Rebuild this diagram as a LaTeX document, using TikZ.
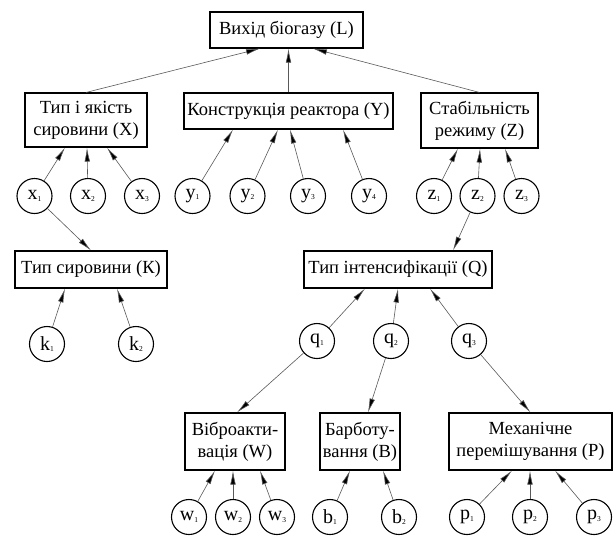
\documentclass[tikz,border=0pt]{standalone}
\usepackage{fontspec}
\setmainfont{Liberation Serif}
\usepackage{xcolor}
\usepackage{tikz}
\usetikzlibrary{arrows.meta}

\newcommand{\fac}[2]{#1\raisebox{-1.5pt}{\fontsize{7.5}{7.5}\selectfont #2}}

\begin{document}
\begin{tikzpicture}[x=1pt,y=-1pt,font=\fontsize{18.5}{22}\selectfont,
      box style/.style={rectangle,draw=black,line width=1.1pt,align=center,
        inner sep=2pt},
      var style/.style={circle,draw=black,line width=1.1pt,minimum size=35pt,
        inner sep=0pt,font=\fontsize{20}{20}\selectfont},
      link style/.style={draw=black!65,line width=0.6pt,
        -{Latex[length=14pt,width=5.5pt,fill=black]}}
      ]
      \useasboundingbox (0,0) rectangle (613,536);

      % top level
      \node[box style, minimum width=153pt, minimum height=36pt] (L) at (286.5,30) {Вихід біогазу (L)};

      \node[box style, minimum width=122pt, minimum height=54pt] (X) at (86,120) {Тип і якість\\сировини (X)};
      \node[box style, minimum width=209pt, minimum height=36pt] (Y) at (288.5,111) {Конструкція реактора (Y)};
      \node[box style, minimum width=117pt, minimum height=55pt] (Z) at (479.5,120.5) {Стабільність\\режиму (Z)};

      \draw[link style] (X.north) -- ([xshift=-26.5pt]L.south);
      \draw[link style] (Y.north) -- ([xshift=2pt]L.south);
      \draw[link style] (Z.north) -- ([xshift=26.5pt]L.south);

      % first row of factors
      \node[var style] (x1) at (34.5,196) {\fac{x}{1}};
      \node[var style] (x2) at (88,196) {\fac{x}{2}};
      \node[var style] (x3) at (142,196) {\fac{x}{3}};
      \node[var style] (y1) at (192.5,196) {\fac{y}{1}};
      \node[var style] (y2) at (247.5,196) {\fac{y}{2}};
      \node[var style] (y3) at (308,196) {\fac{y}{3}};
      \node[var style] (y4) at (369,196) {\fac{y}{4}};
      \node[var style] (z1) at (434,196) {\fac{z}{1}};
      \node[var style] (z2) at (477.5,196) {\fac{z}{2}};
      \node[var style] (z3) at (521.5,196) {\fac{z}{3}};

      \draw[link style] (x1) -- ([xshift=-21pt]X.south);
      \draw[link style] (x2) -- ([xshift=1pt]X.south);
      \draw[link style] (x3) -- ([xshift=21pt]X.south);

      \draw[link style] (y1) -- ([xshift=-55.5pt]Y.south);
      \draw[link style] (y2) -- ([xshift=-10.5pt]Y.south);
      \draw[link style] (y3) -- ([xshift=1.5pt]Y.south);
      \draw[link style] (y4) -- ([xshift=54.5pt]Y.south);

      \draw[link style] (z1) -- ([xshift=-21.5pt]Z.south);
      \draw[link style] (z2) -- ([xshift=0.5pt]Z.south);
      \draw[link style] (z3) -- ([xshift=25.5pt]Z.south);

      % second level
      \node[box style, minimum width=152pt, minimum height=37pt] (K) at (91,269.5) {Тип сировини (К)};
      \node[box style, minimum width=188pt, minimum height=37pt] (Q) at (398,269.5) {Тип інтенсифікації (Q)};

      \draw[link style] (x1) -- (K.north);
      \draw[link style] (z2) -- ([xshift=55pt]Q.north);

      \node[var style] (k1) at (47,344) {\fac{k}{1}};
      \node[var style] (k2) at (136,344) {\fac{k}{2}};
      \node[var style] (q1) at (317,341) {\fac{q}{1}};
      \node[var style] (q2) at (391,341) {\fac{q}{2}};
      \node[var style] (q3) at (469,341) {\fac{q}{3}};

      \draw[link style] (k1) -- ([xshift=-26pt]K.south);
      \draw[link style] (k2) -- ([xshift=26pt]K.south);

      \draw[link style] (q1) -- ([xshift=-33pt]Q.south);
      \draw[link style] (q2) -- (Q.south);
      \draw[link style] (q3) -- ([xshift=32pt]Q.south);

      % third level
      \node[box style, minimum width=100pt, minimum height=57pt] (W) at (235,441.5) {Віброакти-\\вація (W)};
      \node[box style, minimum width=80pt, minimum height=57pt] (B) at (360,441.5) {Барботу-\\вання (B)};
      \node[box style, minimum width=163pt, minimum height=57pt] (P) at (530.5,441.5) {Механічне\\перемішування (P)};

      \draw[link style] (q1) -- ([xshift=2pt]W.north);
      \draw[link style] (q2) -- ([xshift=8pt]B.north);
      \draw[link style] (q3) -- (P.north);

      \node[var style] (w1) at (189,517) {\fac{w}{1}};
      \node[var style] (w2) at (233,517) {\fac{w}{2}};
      \node[var style] (w3) at (277,517) {\fac{w}{3}};
      \node[var style] (b1) at (330,517) {\fac{b}{1}};
      \node[var style] (b2) at (399,517) {\fac{b}{2}};
      \node[var style] (p1) at (467,517) {\fac{p}{1}};
      \node[var style] (p2) at (530,517) {\fac{p}{2}};
      \node[var style] (p3) at (594,517) {\fac{p}{3}};

      \draw[link style] (w1) -- ([xshift=-20pt]W.south);
      \draw[link style] (w2) -- ([xshift=-2pt]W.south);
      \draw[link style] (w3) -- ([xshift=25pt]W.south);

      \draw[link style] (b1) -- ([xshift=-10pt]B.south);
      \draw[link style] (b2) -- ([xshift=23pt]B.south);

      \draw[link style] (p1) -- ([xshift=-18.5pt]P.south);
      \draw[link style] (p2) -- ([xshift=-0.5pt]P.south);
      \draw[link style] (p3) -- ([xshift=24.5pt]P.south);

    \end{tikzpicture}
\end{document}
